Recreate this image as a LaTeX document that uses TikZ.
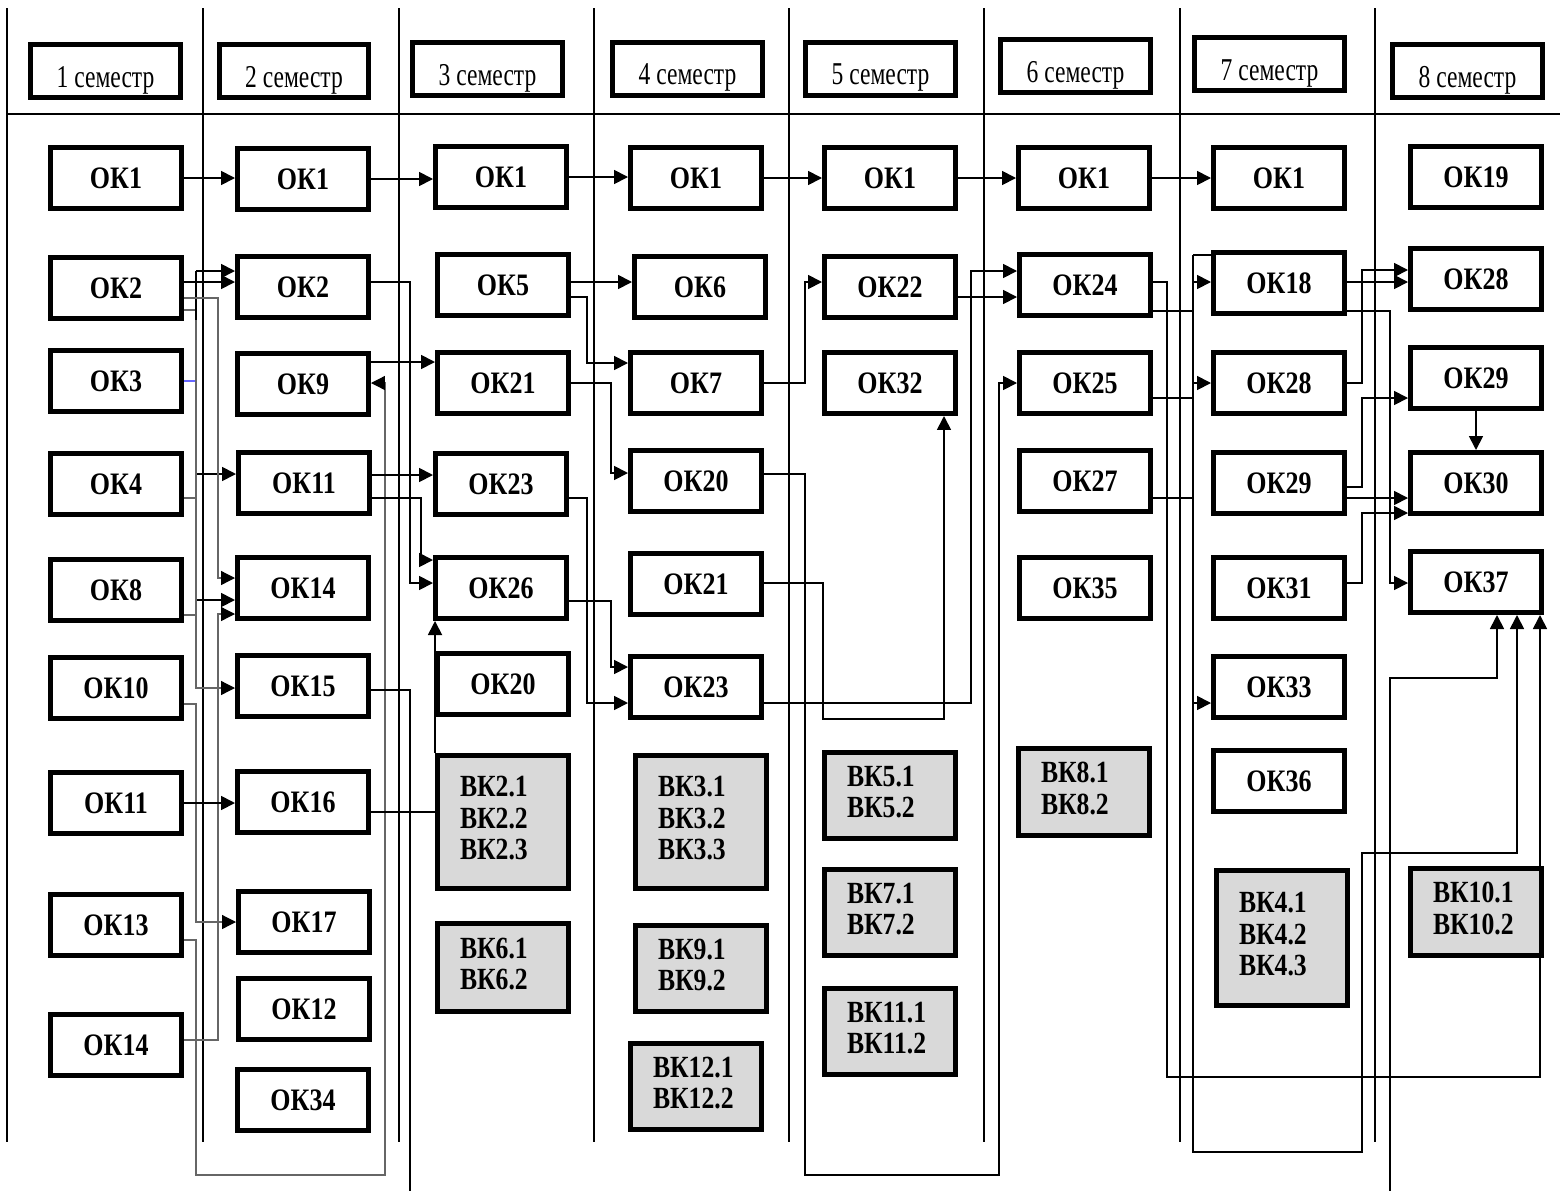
\documentclass[tikz,border=0pt]{standalone}
\usepackage{fontspec}
\setmainfont{Liberation Serif}
\usepackage{graphicx}
\usetikzlibrary{arrows.meta}
\definecolor{vkgray}{RGB}{217,217,217}
\newcommand{\okt}[1]{\scalebox{1}[1.2]{#1}}
\newcommand{\vkl}[1]{\scalebox{1}[1.2]{\begin{tabular}{@{}l@{}}#1\end{tabular}}}
\newcommand{\semt}[1]{\scalebox{1}[1.35]{#1}}

\begin{document}
\begin{tikzpicture}[
    x=0.02cm, y=-0.02cm,
    hdr/.style={
        rectangle, draw, line width=0.1cm,
        minimum width=3cm, minimum height=1.06cm, inner sep=0pt,
        text height=0.64cm, text depth=0pt,
        font=\fontsize{13.4}{15}\selectfont
    },
    okbox/.style={
        rectangle, draw, line width=0.1cm,
        minimum width=2.62cm, minimum height=1.22cm, inner sep=0pt,
        font=\fontsize{14.8}{16}\selectfont\bfseries
    },
    vkbox/.style={
        rectangle, draw, fill=vkgray, line width=0.1cm,
        text width=1.72cm, inner xsep=0.45cm, inner ysep=0pt, align=left,
        font=\fontsize{14.6}{15}\selectfont\bfseries
    },
    sep/.style={line width=0.04cm},
    ln/.style={line width=0.035cm},
    faint/.style={line width=0.025cm, black!60},
    arr/.style={ln, -{Triangle[length=0.28cm, width=0.28cm]}},
    farr/.style={faint, -{Triangle[length=0.28cm, width=0.28cm, color=black]}},
]
\useasboundingbox (0,0) rectangle (1560,1191);

%% ---- GRID ----
\draw[sep] (7,8) -- (7,1142) (203,8) -- (203,1142) (399,8) -- (399,1142)
    (593.5,8) -- (593.5,1142) (789,8) -- (789,1142) (983.5,8) -- (983.5,1142)
    (1180,8) -- (1180,1142) (1375,8) -- (1375,1142);
\draw[sep] (7,114) -- (1560,114);

%% ---- SEMESTERS ----
\node[hdr] (sem1) at (105.5,71)   {\semt{1 семестр}};
\node[hdr] (sem2) at (294,71)     {\semt{2 семестр}};
\node[hdr] (sem3) at (487.5,69)   {\semt{3 семестр}};
\node[hdr] (sem4) at (687.5,68.5) {\semt{4 семестр}};
\node[hdr] (sem5) at (880.5,68.5) {\semt{5 семестр}};
\node[hdr] (sem6) at (1075.5,66)  {\semt{6 семестр}};
\node[hdr] (sem7) at (1269.5,64)  {\semt{7 семестр}};
\node[hdr] (sem8) at (1467.5,71)  {\semt{8 семестр}};

%% ---- SEMESTER 1 ----
\node[okbox] (s1ok1)  at (116,178)  {\okt{ОК1}};
\node[okbox] (s1ok2)  at (116,288)  {\okt{ОК2}};
\node[okbox] (s1ok3)  at (116,381)  {\okt{ОК3}};
\node[okbox] (s1ok4)  at (116,484)  {\okt{ОК4}};
\node[okbox] (s1ok8)  at (116,590)  {\okt{ОК8}};
\node[okbox] (s1ok10) at (116,688)  {\okt{ОК10}};
\node[okbox] (s1ok11) at (116,803)  {\okt{ОК11}};
\node[okbox] (s1ok13) at (116,925)  {\okt{ОК13}};
\node[okbox] (s1ok14) at (116,1045) {\okt{ОК14}};

%% ---- SEMESTER 2 ----
\node[okbox] (s2ok1)  at (303,179)  {\okt{ОК1}};
\node[okbox] (s2ok2)  at (303,287)  {\okt{ОК2}};
\node[okbox] (s2ok9)  at (303,384)  {\okt{ОК9}};
\node[okbox] (s2ok11) at (304,483)  {\okt{ОК11}};
\node[okbox] (s2ok14) at (303,588)  {\okt{ОК14}};
\node[okbox] (s2ok15) at (303,686)  {\okt{ОК15}};
\node[okbox] (s2ok16) at (303,802)  {\okt{ОК16}};
\node[okbox] (s2ok17) at (304,922)  {\okt{ОК17}};
\node[okbox] (s2ok12) at (304,1009) {\okt{ОК12}};
\node[okbox] (s2ok34) at (303,1100) {\okt{ОК34}};

%% ---- SEMESTER 3 ----
\node[okbox] (s3ok1)  at (501,177) {\okt{ОК1}};
\node[okbox] (s3ok5)  at (503,285) {\okt{ОК5}};
\node[okbox] (s3ok21) at (503,383) {\okt{ОК21}};
\node[okbox] (s3ok23) at (501,484) {\okt{ОК23}};
\node[okbox] (s3ok26) at (501,588) {\okt{ОК26}};
\node[okbox] (s3ok20) at (503,684) {\okt{ОК20}};
\node[vkbox, minimum height=2.66cm] (s3vk2) at (503,822)   {\vkl{ВК2.1\\ВК2.2\\ВК2.3}};
\node[vkbox, minimum height=1.76cm] (s3vk6) at (503,967.5) {\vkl{ВК6.1\\ВК6.2}};

%% ---- SEMESTER 4 ----
\node[okbox] (s4ok1)  at (696,178) {\okt{ОК1}};
\node[okbox] (s4ok6)  at (700,287) {\okt{ОК6}};
\node[okbox] (s4ok7)  at (696,383) {\okt{ОК7}};
\node[okbox] (s4ok20) at (696,481) {\okt{ОК20}};
\node[okbox] (s4ok21) at (696,584) {\okt{ОК21}};
\node[okbox] (s4ok23) at (696,687) {\okt{ОК23}};
\node[vkbox, minimum height=2.66cm] (s4vk3)  at (701,822)    {\vkl{ВК3.1\\ВК3.2\\ВК3.3}};
\node[vkbox, minimum height=1.72cm] (s4vk9)  at (701,968.5)  {\vkl{ВК9.1\\ВК9.2}};
\node[vkbox, minimum height=1.72cm] (s4vk12) at (696,1086.5) {\vkl{ВК12.1\\ВК12.2}};

%% ---- SEMESTER 5 ----
\node[okbox] (s5ok1)  at (890,178) {\okt{ОК1}};
\node[okbox] (s5ok22) at (890,287) {\okt{ОК22}};
\node[okbox] (s5ok32) at (890,383) {\okt{ОК32}};
\node[vkbox, minimum height=1.72cm] (s5vk5)  at (890,795.5)  {\vkl{ВК5.1\\ВК5.2}};
\node[vkbox, minimum height=1.72cm] (s5vk7)  at (890,912.5)  {\vkl{ВК7.1\\ВК7.2}};
\node[vkbox, minimum height=1.72cm] (s5vk11) at (890,1031.5) {\vkl{ВК11.1\\ВК11.2}};

%% ---- SEMESTER 6 ----
\node[okbox] (s6ok1)  at (1084,178) {\okt{ОК1}};
\node[okbox] (s6ok24) at (1085,285) {\okt{ОК24}};
\node[okbox] (s6ok25) at (1085,383) {\okt{ОК25}};
\node[okbox] (s6ok27) at (1085,481) {\okt{ОК27}};
\node[okbox] (s6ok35) at (1085,588) {\okt{ОК35}};
\node[vkbox, minimum height=1.74cm] (s6vk8) at (1084,792) {\vkl{ВК8.1\\ВК8.2}};

%% ---- SEMESTER 7 ----
\node[okbox] (s7ok1)  at (1279,178) {\okt{ОК1}};
\node[okbox] (s7ok18) at (1279,283) {\okt{ОК18}};
\node[okbox] (s7ok28) at (1279,383) {\okt{ОК28}};
\node[okbox] (s7ok29) at (1279,483) {\okt{ОК29}};
\node[okbox] (s7ok31) at (1279,588) {\okt{ОК31}};
\node[okbox] (s7ok33) at (1279,687) {\okt{ОК33}};
\node[okbox] (s7ok36) at (1279,781) {\okt{ОК36}};
\node[vkbox, minimum height=2.7cm] (s7vk4) at (1282,938) {\vkl{ВК4.1\\ВК4.2\\ВК4.3}};

%% ---- SEMESTER 8 ----
\node[okbox] (s8ok19) at (1476,177) {\okt{ОК19}};
\node[okbox] (s8ok28) at (1476,279) {\okt{ОК28}};
\node[okbox] (s8ok29) at (1476,378) {\okt{ОК29}};
\node[okbox] (s8ok30) at (1476,483) {\okt{ОК30}};
\node[okbox] (s8ok37) at (1476,582) {\okt{ОК37}};
\node[vkbox, minimum height=1.74cm] (s8vk10) at (1476,912) {\vkl{ВК10.1\\ВК10.2}};

%% ---- LANES ----
\coordinate (g12a) at (196,0);
\coordinate (g12b) at (218,0);
\coordinate (g23a) at (385,0);
\coordinate (g23b) at (410,0);
\coordinate (g23c) at (421,0);
\coordinate (g34a) at (587,0);
\coordinate (g34b) at (611,0);
\coordinate (g45a) at (805,0);
\coordinate (g45b) at (823,0);
\coordinate (g5a)  at (944,0);
\coordinate (g56a) at (971,0);
\coordinate (g56b) at (999,0);
\coordinate (g67a) at (1167,0);
\coordinate (g67b) at (1193,0);
\coordinate (g78a) at (1362,0);
\coordinate (g78b) at (1390,0);
\coordinate (g8a)  at (1497,0);
\coordinate (g8b)  at (1517,0);
\coordinate (g8c)  at (1540,0);
\coordinate (outa) at (410,1191);
\coordinate (inb)  at (1390,1191);

%% ---- OK1 CHAIN ----
\draw[arr] (s1ok1.east) -- (s1ok1.east -| s2ok1.west);
\draw[arr] (s2ok1.east) -- (s2ok1.east -| s3ok1.west);
\draw[arr] (s3ok1.east) -- (s3ok1.east -| s4ok1.west);
\draw[arr] (s4ok1.east) -- (s4ok1.east -| s5ok1.west);
\draw[arr] (s5ok1.east) -- (s5ok1.east -| s6ok1.west);
\draw[arr] (s6ok1.east) -- (s6ok1.east -| s7ok1.west);

%% ---- SEMESTER 1 -> 2 ----
\draw[arr] (s1ok2.east |- 0,282) -- (s2ok2.west |- 0,282);
\draw[faint] (s1ok2.east |- 0,310) -- (g12a |- 0,310);
\draw[faint, draw=blue!60] (s1ok3.east) -- (g12a |- s1ok3.east);
\draw[faint] (s1ok4.east |- 0,498) -- (g12a |- 0,498);
\draw[faint] (s1ok8.east |- 0,615) -- (g12a |- 0,615);
\draw[ln] (g12a |- 0,320) -- (g12a |- 0,271);
\draw[arr] (g12a |- 0,271) -- (s2ok2.west |- 0,271);
\draw[arr] (g12a |- 0,474) -- (s2ok11.west |- 0,474);
\draw[arr] (g12a |- 0,600) -- (s2ok14.west |- 0,600);
\draw[farr] (g12a |- 0,320) -- (g12a |- 0,688) -- (s2ok15.west |- 0,688);
\draw[farr] (s1ok2.east |- 0,298) -- (g12b |- 0,298) -- (g12b |- 0,578) -- (s2ok14.west |- 0,578);
\draw[farr] (s1ok14.east |- 0,1040) -- (g12b |- 0,1040) -- (g12b |- 0,614) -- (s2ok14.west |- 0,614);
\draw[farr] (s1ok10.east |- 0,704) -- (g12a |- 0,704) -- (g12a |- 0,922) -- (s2ok17.west |- 0,922);
\draw[arr] (s1ok11.east) -- (s1ok11.east -| s2ok16.west);
\draw[farr] (s1ok13.east |- 0,940) -- (g12a |- 0,940) -- (g12a |- 0,1175)
    -- (g23a |- 0,1175) -- (g23a |- 0,383) -- (s2ok9.east |- 0,383);

%% ---- SEMESTER 2 -> 3 ----
\draw[arr] (s2ok2.east |- 0,282) -- (g23b |- 0,282) -- (g23b |- 0,583) -- (s3ok26.west |- 0,583);
\draw[arr] (s2ok9.east |- 0,362) -- (s3ok21.west |- 0,362);
\draw[arr] (s2ok11.east |- 0,475) -- (s3ok23.west |- 0,475);
\draw[arr] (s2ok11.east |- 0,498) -- (g23c |- 0,498) -- (g23c |- 0,560) -- (s3ok26.west |- 0,560);
\draw[ln] (s2ok15.east |- 0,690) -- (g23b |- 0,690) -- (outa);
\draw[ln] (s2ok16.east |- 0,812) -- (s3vk2.west |- 0,812);
\draw[arr] (s3vk2.north west) -- (s3vk2.north west |- s3ok26.south);

%% ---- SEMESTER 3 -> 4 ----
\draw[arr] (s3ok5.east |- 0,282) -- (s4ok6.west |- 0,282);
\draw[arr] (s3ok5.east |- 0,297) -- (g34a |- 0,297) -- (g34a |- 0,363) -- (s4ok7.west |- 0,363);
\draw[arr] (s3ok21.east |- 0,383) -- (g34b |- 0,383) -- (g34b |- 0,473) -- (s4ok20.west |- 0,473);
\draw[arr] (s3ok23.east |- 0,498) -- (g34a |- 0,498) -- (g34a |- 0,703) -- (s4ok23.west |- 0,703);
\draw[arr] (s3ok26.east |- 0,601) -- (g34b |- 0,601) -- (g34b |- 0,667) -- (s4ok23.west |- 0,667);

%% ---- SEMESTER 4 -> 5 ----
\draw[arr] (s4ok7.east) -- (g45a |- s4ok7.east) -- (g45a |- 0,282) -- (s5ok22.west |- 0,282);
\draw[arr] (s4ok20.east |- 0,474) -- (g45a |- 0,474) -- (g45a |- 0,1175)
    -- (g56b |- 0,1175) -- (g56b |- 0,383) -- (s6ok25.west |- 0,383);
\draw[arr] (s4ok21.east |- 0,583) -- (g45b |- 0,583) -- (g45b |- 0,719)
    -- (g5a |- 0,719) -- (g5a |- s5ok32.south);
\draw[arr] (s4ok23.east |- 0,703) -- (g56a |- 0,703) -- (g56a |- 0,271) -- (s6ok24.west |- 0,271);

%% ---- SEMESTER 5 -> 6 ----
\draw[arr] (s5ok22.east |- 0,297) -- (s6ok24.west |- 0,297);

%% ---- SEMESTER 6 -> 7 ----
\draw[arr] (s6ok24.east |- 0,282) -- (g67a |- 0,282) -- (g67a |- 0,1077)
    -- (g8c |- 0,1077) -- (g8c |- s8ok37.south);
\draw[ln] (s6ok24.east |- 0,311) -- (g67b |- 0,311);
\draw[ln] (s6ok25.east |- 0,398) -- (g67b |- 0,398);
\draw[ln] (s6ok27.east |- 0,498) -- (g67b |- 0,498);
\draw[ln] (s7ok18.west |- 0,255) -- (g67b |- 0,255);
\draw[arr] (g67b |- 0,255) -- (g67b |- 0,1152) -- (g78a |- 0,1152)
    -- (g78a |- 0,853) -- (g8b |- 0,853) -- (g8b |- s8ok37.south);
\draw[arr] (g67b |- 0,282) -- (s7ok18.west |- 0,282);
\draw[arr] (g67b |- 0,383) -- (s7ok28.west |- 0,383);
\draw[arr] (g67b |- 0,703) -- (s7ok33.west |- 0,703);

%% ---- SEMESTER 7 -> 8 ----
\draw[arr] (s7ok18.east |- 0,282) -- (s8ok28.west |- 0,282);
\draw[arr] (s7ok28.east) -- (g78a |- s7ok28.east) -- (g78a |- 0,270) -- (s8ok28.west |- 0,270);
\draw[arr] (s7ok18.east |- 0,311) -- (g78b |- 0,311) -- (g78b |- 0,583) -- (s8ok37.west |- 0,583);
\draw[arr] (s7ok29.east |- 0,487) -- (g78a |- 0,487) -- (g78a |- 0,398) -- (s8ok29.west |- 0,398);
\draw[arr] (s7ok29.east |- 0,498) -- (s8ok30.west |- 0,498);
\draw[arr] (s7ok31.east |- 0,583) -- (g78a |- 0,583) -- (g78a |- 0,513) -- (s8ok30.west |- 0,513);
\draw[arr] (s8ok29.south) -- (s8ok30.north);
\draw[arr] (inb) -- (g78b |- 0,678) -- (g8a |- 0,678) -- (g8a |- s8ok37.south);

\end{tikzpicture}
\end{document}
